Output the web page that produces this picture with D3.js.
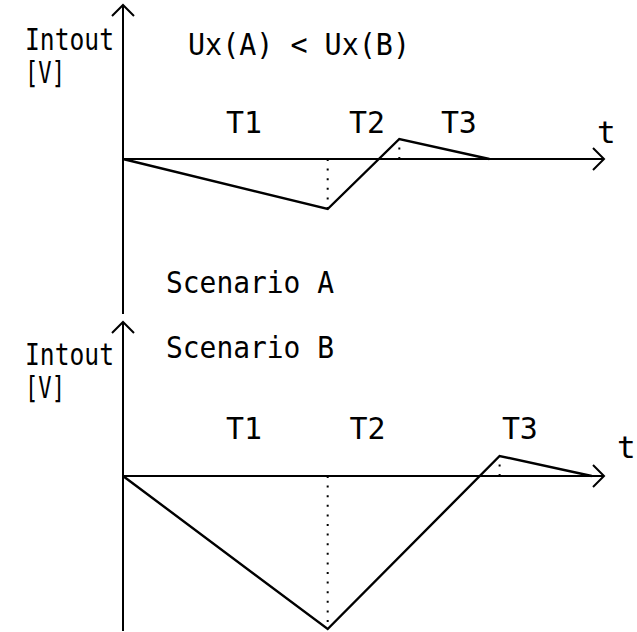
<!DOCTYPE html>
<html>
<head>
<meta charset="utf-8">
<script src="https://cdn.jsdelivr.net/npm/d3@7"></script>
<style>
  html, body { margin: 0; padding: 0; background: #fff; }
  svg text { font-family: "DejaVu Sans Mono", monospace; font-size: 31px; fill: #000; }
</style>
</head>
<body>
<svg id="chart" width="637" height="632"></svg>
<script>
// Integrator output over the three phases T1 / T2 / T3
const timeA = [0, 10, 13.5, 17.9];
const voltA = [0, -5, 2, 0];
const timeB = [0, 10, 18.4, 22.9];
const voltB = [0, -15.3, 2, 0];
const phaseLabels = ["T1", "T2", "T3"];
const phaseTimeA = [5.91, 11.92, 16.41];
const phaseTimeB = [5.91, 11.95, 19.39];
const scenarioLabels = ["Scenario A", "Scenario B"];

const svg = d3.select("#chart");

const x = d3.scaleLinear().domain([0, 23.5]).range([123, 604]);
const panels = [
  { y: d3.scaleLinear().domain([-15.5, 15.5]).range([314, 4]), t: timeA, v: voltA, ph: phaseTimeA, tx: 597, ty: 143, phaseBase: 133, titleBase: 50 },
  { y: d3.scaleLinear().domain([-15.5, 15.5]).range([631, 321]), t: timeB, v: voltB, ph: phaseTimeB, tx: 617, ty: 458, phaseBase: 439, titleBase: 365 }
];

const stroke = "#000";

// text squeezed to a given run length, to keep the narrow letterforms
function label(g, str, px, py, len, anchor) {
  const t = g.append("text").attr("x", px).attr("y", py).text(str);
  if (len) t.attr("textLength", len).attr("lengthAdjust", "spacingAndGlyphs");
  if (anchor) t.attr("text-anchor", anchor);
  return t;
}

panels.forEach((p, i) => {
  const g = svg.append("g");
  const y0 = p.y(0);
  const [yBot, yTop] = p.y.range();

  // vertical axis with arrowhead
  g.append("line").attr("x1", x(0)).attr("x2", x(0)).attr("y1", yBot).attr("y2", yTop + 1)
    .attr("stroke", stroke).attr("stroke-width", 2);
  g.append("path").attr("d", `M${x(0) - 11},${yTop + 12}L${x(0)},${yTop + 1}L${x(0) + 11},${yTop + 12}`)
    .attr("fill", "none").attr("stroke", stroke).attr("stroke-width", 2);

  // time axis with arrowhead
  const xEnd = x.range()[1];
  g.append("line").attr("x1", x(0)).attr("x2", xEnd).attr("y1", y0).attr("y2", y0)
    .attr("stroke", stroke).attr("stroke-width", 2);
  g.append("path").attr("d", `M${xEnd - 11},${y0 - 11}L${xEnd},${y0}L${xEnd - 11},${y0 + 11}`)
    .attr("fill", "none").attr("stroke", stroke).attr("stroke-width", 2);

  // dotted guides from the corners of the curve to the time axis
  [1, 2].forEach(k => {
    g.append("line").attr("x1", x(p.t[k])).attr("x2", x(p.t[k]))
      .attr("y1", y0).attr("y2", p.y(p.v[k]))
      .attr("stroke", stroke).attr("stroke-width", 2).attr("stroke-dasharray", "2,7.6");
  });

  // the integrator output
  const line = d3.line().x((d, j) => x(p.t[j])).y(d => p.y(d));
  g.append("path").datum(p.v).attr("d", line)
    .attr("fill", "none").attr("stroke", stroke).attr("stroke-width", 2.4).attr("stroke-linejoin", "miter");

  // axis titles
  label(g, "Intout", 25, p.titleBase, 89);
  label(g, "[V]", 25, p.titleBase + 33, 40);
  label(g, "t", p.tx, p.ty);

  // phase labels
  phaseLabels.forEach((lab, k) => {
    label(g, lab, x(p.ph[k]), p.phaseBase, 36, "middle");
  });
});

label(svg, "Ux(A) < Ux(B)", 188, 55, 222).attr("xml:space", "preserve");
label(svg, scenarioLabels[0], 166, 293, 168);
label(svg, scenarioLabels[1], 166, 358, 168);
</script>
</body>
</html>
